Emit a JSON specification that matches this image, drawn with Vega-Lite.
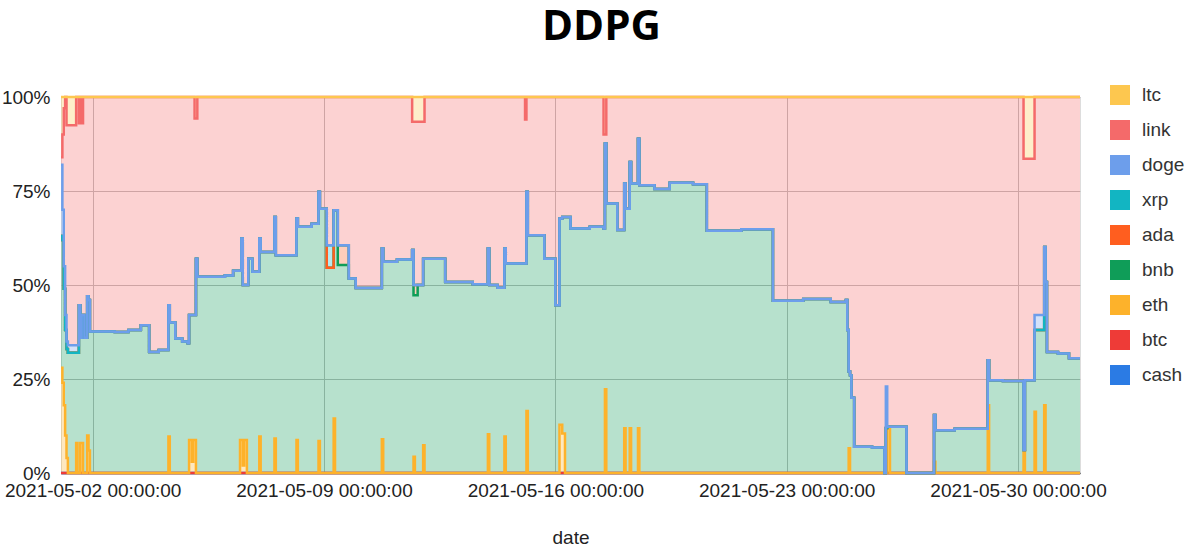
{
"$schema": "https://vega.github.io/schema/vega-lite/v6.json",
"width": 1019, "height": 376,
"autosize": "none",
"padding": {"left": 61, "top": 97, "right": 123, "bottom": 79},
"background": "white",
"title": {"text": "DDPG", "font": "Open Sans", "fontSize": 42, "fontWeight": "bold", "color": "#000", "anchor": "middle", "dx": 31, "offset": 36},
"datasets": {"order": [{"asset":"cash","i":0},{"asset":"btc","i":1},{"asset":"eth","i":2},{"asset":"bnb","i":3},{"asset":"ada","i":4},{"asset":"xrp","i":5},{"asset":"doge","i":6},{"asset":"link","i":7},{"asset":"ltc","i":8}]},
"data": {"values": [
{"t":"2021-05-01T01:00","cash":0,"btc":0,"eth":28,"bnb":35,"ada":0,"xrp":0,"doge":19,"link":2,"ltc":16},
{"t":"2021-05-01T02:00","cash":0,"btc":0,"eth":24,"bnb":38,"ada":0,"xrp":0,"doge":8,"link":20,"ltc":10},
{"t":"2021-05-01T03:00","cash":0,"btc":0,"eth":18,"bnb":31,"ada":0,"xrp":0,"doge":6,"link":42,"ltc":3},
{"t":"2021-05-01T04:00","cash":0,"btc":0,"eth":10,"bnb":28,"ada":0,"xrp":0,"doge":4,"link":58,"ltc":0},
{"t":"2021-05-01T05:00","cash":0,"btc":0,"eth":4,"bnb":29,"ada":0,"xrp":0,"doge":2,"link":57.5,"ltc":7.5},
{"t":"2021-05-01T06:00","cash":0,"btc":0,"eth":0,"bnb":32,"ada":0,"xrp":0,"doge":2,"link":58.5,"ltc":7.5},
{"t":"2021-05-01T12:00","cash":0,"btc":0,"eth":8,"bnb":24,"ada":0,"xrp":0,"doge":2,"link":66,"ltc":0},
{"t":"2021-05-01T13:00","cash":0,"btc":0,"eth":0,"bnb":32,"ada":0,"xrp":0,"doge":2,"link":66,"ltc":0},
{"t":"2021-05-01T14:00","cash":0,"btc":0,"eth":0,"bnb":44.6,"ada":0,"xrp":0,"doge":0,"link":48.4,"ltc":7},
{"t":"2021-05-01T15:00","cash":0,"btc":0,"eth":8,"bnb":28,"ada":0,"xrp":0,"doge":0,"link":64,"ltc":0},
{"t":"2021-05-01T16:00","cash":0,"btc":0,"eth":8,"bnb":34,"ada":0,"xrp":0,"doge":0,"link":51,"ltc":7},
{"t":"2021-05-01T17:00","cash":0,"btc":0,"eth":0,"bnb":42,"ada":0,"xrp":0,"doge":0,"link":58,"ltc":0},
{"t":"2021-05-01T18:00","cash":0,"btc":0,"eth":0,"bnb":36,"ada":0,"xrp":0,"doge":0,"link":64,"ltc":0},
{"t":"2021-05-01T20:00","cash":0,"btc":0,"eth":10,"bnb":37,"ada":0,"xrp":0,"doge":0,"link":53,"ltc":0},
{"t":"2021-05-01T21:00","cash":0,"btc":0,"eth":6,"bnb":40,"ada":0,"xrp":0,"doge":0,"link":54,"ltc":0},
{"t":"2021-05-01T22:00","cash":0,"btc":0,"eth":0,"bnb":37.6,"ada":0,"xrp":0,"doge":0,"link":62.4,"ltc":0},
{"t":"2021-05-02T16:00","cash":0,"btc":0,"eth":0,"bnb":37.5,"ada":0,"xrp":0,"doge":0,"link":62.5,"ltc":0},
{"t":"2021-05-03T02:00","cash":0,"btc":0,"eth":0,"bnb":38,"ada":0,"xrp":0,"doge":0,"link":62,"ltc":0},
{"t":"2021-05-03T11:00","cash":0,"btc":0,"eth":0,"bnb":39.3,"ada":0,"xrp":0,"doge":0,"link":60.7,"ltc":0},
{"t":"2021-05-03T17:00","cash":0,"btc":0,"eth":0,"bnb":32.2,"ada":0,"xrp":0,"doge":0,"link":67.8,"ltc":0},
{"t":"2021-05-04T00:00","cash":0,"btc":0,"eth":0,"bnb":32.7,"ada":0,"xrp":0,"doge":0,"link":67.3,"ltc":0},
{"t":"2021-05-04T07:00","cash":0,"btc":0,"eth":9.7,"bnb":34.9,"ada":0,"xrp":0,"doge":0,"link":55.4,"ltc":0},
{"t":"2021-05-04T08:00","cash":0,"btc":0,"eth":0,"bnb":40,"ada":0,"xrp":0,"doge":0,"link":60,"ltc":0},
{"t":"2021-05-04T12:00","cash":0,"btc":0,"eth":0,"bnb":35.8,"ada":0,"xrp":0,"doge":0,"link":64.2,"ltc":0},
{"t":"2021-05-04T17:00","cash":0,"btc":0,"eth":0,"bnb":35,"ada":0,"xrp":0,"doge":0,"link":65,"ltc":0},
{"t":"2021-05-04T21:00","cash":0,"btc":0,"eth":0,"bnb":34.5,"ada":0,"xrp":0,"doge":0,"link":65.5,"ltc":0},
{"t":"2021-05-04T22:00","cash":0,"btc":0,"eth":8.8,"bnb":33.2,"ada":0,"xrp":0,"doge":0,"link":58,"ltc":0},
{"t":"2021-05-05T00:00","cash":0,"btc":0,"eth":3,"bnb":39,"ada":0,"xrp":0,"doge":0,"link":58,"ltc":0},
{"t":"2021-05-05T01:00","cash":0,"btc":0,"eth":8.8,"bnb":33.2,"ada":0,"xrp":0,"doge":0,"link":58,"ltc":0},
{"t":"2021-05-05T02:00","cash":0,"btc":0,"eth":8.8,"bnb":33.2,"ada":0,"xrp":0,"doge":0,"link":52.3,"ltc":5.7},
{"t":"2021-05-05T03:00","cash":0,"btc":0,"eth":0,"bnb":57,"ada":0,"xrp":0,"doge":0,"link":37.3,"ltc":5.7},
{"t":"2021-05-05T04:00","cash":0,"btc":0,"eth":0,"bnb":52.2,"ada":0,"xrp":0,"doge":0,"link":47.8,"ltc":0},
{"t":"2021-05-06T00:00","cash":0,"btc":0,"eth":0,"bnb":52.5,"ada":0,"xrp":0,"doge":0,"link":47.5,"ltc":0},
{"t":"2021-05-06T06:00","cash":0,"btc":0,"eth":0,"bnb":53.8,"ada":0,"xrp":0,"doge":0,"link":46.2,"ltc":0},
{"t":"2021-05-06T11:00","cash":0,"btc":0,"eth":8.8,"bnb":45,"ada":0,"xrp":0,"doge":0,"link":46.2,"ltc":0},
{"t":"2021-05-06T12:00","cash":0,"btc":0,"eth":8.8,"bnb":53.6,"ada":0,"xrp":0,"doge":0,"link":37.6,"ltc":0},
{"t":"2021-05-06T13:00","cash":0,"btc":0,"eth":2,"bnb":48,"ada":0,"xrp":0,"doge":0,"link":50,"ltc":0},
{"t":"2021-05-06T14:00","cash":0,"btc":0,"eth":8.8,"bnb":41.2,"ada":0,"xrp":0,"doge":0,"link":50,"ltc":0},
{"t":"2021-05-06T16:00","cash":0,"btc":0,"eth":0,"bnb":50,"ada":0,"xrp":0,"doge":0,"link":50,"ltc":0},
{"t":"2021-05-06T17:00","cash":0,"btc":0,"eth":0,"bnb":57,"ada":0,"xrp":0,"doge":0,"link":43,"ltc":0},
{"t":"2021-05-06T20:00","cash":0,"btc":0,"eth":0,"bnb":53.5,"ada":0,"xrp":0,"doge":0,"link":46.5,"ltc":0},
{"t":"2021-05-07T01:00","cash":0,"btc":0,"eth":9.7,"bnb":52.7,"ada":0,"xrp":0,"doge":0,"link":37.6,"ltc":0},
{"t":"2021-05-07T02:00","cash":0,"btc":0,"eth":0,"bnb":58.8,"ada":0,"xrp":0,"doge":0,"link":41.2,"ltc":0},
{"t":"2021-05-07T12:00","cash":0,"btc":0,"eth":9.2,"bnb":58.9,"ada":0,"xrp":0,"doge":0,"link":31.9,"ltc":0},
{"t":"2021-05-07T13:00","cash":0,"btc":0,"eth":0,"bnb":57.9,"ada":0,"xrp":0,"doge":0,"link":42.1,"ltc":0},
{"t":"2021-05-08T04:00","cash":0,"btc":0,"eth":8.8,"bnb":58.9,"ada":0,"xrp":0,"doge":0,"link":32.3,"ltc":0},
{"t":"2021-05-08T05:00","cash":0,"btc":0,"eth":0,"bnb":65.5,"ada":0,"xrp":0,"doge":0,"link":34.5,"ltc":0},
{"t":"2021-05-08T15:00","cash":0,"btc":0,"eth":0,"bnb":66.3,"ada":0,"xrp":0,"doge":0,"link":33.7,"ltc":0},
{"t":"2021-05-08T20:00","cash":0,"btc":0,"eth":8.5,"bnb":66.3,"ada":0,"xrp":0,"doge":0,"link":25.2,"ltc":0},
{"t":"2021-05-08T21:00","cash":0,"btc":0,"eth":0,"bnb":70.3,"ada":0,"xrp":0,"doge":0,"link":29.7,"ltc":0},
{"t":"2021-05-09T02:00","cash":0,"btc":0,"eth":0,"bnb":54.6,"ada":0,"xrp":6,"doge":0,"link":39.4,"ltc":0},
{"t":"2021-05-09T07:00","cash":0,"btc":0,"eth":14.5,"bnb":55.4,"ada":0,"xrp":0,"doge":0,"link":30.1,"ltc":0},
{"t":"2021-05-09T08:00","cash":0,"btc":0,"eth":0,"bnb":69.9,"ada":0,"xrp":0,"doge":0,"link":30.1,"ltc":0},
{"t":"2021-05-09T10:00","cash":0,"btc":0,"eth":0,"bnb":55.3,"ada":5.3,"xrp":0,"doge":0,"link":39.4,"ltc":0},
{"t":"2021-05-09T18:00","cash":0,"btc":0,"eth":0,"bnb":51.7,"ada":0,"xrp":0,"doge":0,"link":48.3,"ltc":0},
{"t":"2021-05-09T23:00","cash":0,"btc":0,"eth":0,"bnb":49.2,"ada":0,"xrp":0,"doge":0,"link":50.8,"ltc":0},
{"t":"2021-05-10T18:00","cash":0,"btc":0,"eth":9,"bnb":50.7,"ada":0,"xrp":0,"doge":0,"link":40.3,"ltc":0},
{"t":"2021-05-10T19:00","cash":0,"btc":0,"eth":0,"bnb":56.2,"ada":0,"xrp":0,"doge":0,"link":43.8,"ltc":0},
{"t":"2021-05-11T05:00","cash":0,"btc":0,"eth":0,"bnb":56.8,"ada":0,"xrp":0,"doge":0,"link":43.2,"ltc":0},
{"t":"2021-05-11T16:00","cash":0,"btc":0,"eth":0,"bnb":59.3,"ada":0,"xrp":0,"doge":0,"link":34.1,"ltc":6.6},
{"t":"2021-05-11T17:00","cash":0,"btc":0,"eth":4.3,"bnb":43,"ada":2.7,"xrp":0,"doge":0,"link":43.4,"ltc":6.6},
{"t":"2021-05-11T18:00","cash":0,"btc":0,"eth":0,"bnb":47.3,"ada":2.7,"xrp":0,"doge":0,"link":43.4,"ltc":6.6},
{"t":"2021-05-11T20:00","cash":0,"btc":0,"eth":0,"bnb":50,"ada":0,"xrp":0,"doge":0,"link":43.4,"ltc":6.6},
{"t":"2021-05-12T00:00","cash":0,"btc":0,"eth":7.4,"bnb":49.6,"ada":0,"xrp":0,"doge":0,"link":36.4,"ltc":6.6},
{"t":"2021-05-12T01:00","cash":0,"btc":0,"eth":0,"bnb":57,"ada":0,"xrp":0,"doge":0,"link":43,"ltc":0},
{"t":"2021-05-12T16:00","cash":0,"btc":0,"eth":0,"bnb":50.8,"ada":0,"xrp":0,"doge":0,"link":49.2,"ltc":0},
{"t":"2021-05-13T12:00","cash":0,"btc":0,"eth":0,"bnb":50.2,"ada":0,"xrp":0,"doge":0,"link":49.8,"ltc":0},
{"t":"2021-05-13T23:00","cash":0,"btc":0,"eth":10.3,"bnb":49.4,"ada":0,"xrp":0,"doge":0,"link":40.3,"ltc":0},
{"t":"2021-05-14T00:00","cash":0,"btc":0,"eth":0,"bnb":50,"ada":0,"xrp":0,"doge":0,"link":50,"ltc":0},
{"t":"2021-05-14T06:00","cash":0,"btc":0,"eth":0,"bnb":49.3,"ada":0,"xrp":0,"doge":0,"link":50.7,"ltc":0},
{"t":"2021-05-14T11:00","cash":0,"btc":0,"eth":9.7,"bnb":50,"ada":0,"xrp":0,"doge":0,"link":40.3,"ltc":0},
{"t":"2021-05-14T12:00","cash":0,"btc":0,"eth":0,"bnb":55.7,"ada":0,"xrp":0,"doge":0,"link":44.3,"ltc":0},
{"t":"2021-05-15T02:00","cash":0,"btc":0,"eth":0,"bnb":55.7,"ada":0,"xrp":0,"doge":0,"link":38.3,"ltc":6},
{"t":"2021-05-15T03:00","cash":0,"btc":0,"eth":16.5,"bnb":58.3,"ada":0,"xrp":0,"doge":0,"link":25.2,"ltc":0},
{"t":"2021-05-15T04:00","cash":0,"btc":0,"eth":0,"bnb":63.2,"ada":0,"xrp":0,"doge":0,"link":36.8,"ltc":0},
{"t":"2021-05-15T16:00","cash":0,"btc":0,"eth":0,"bnb":57,"ada":0,"xrp":0,"doge":0,"link":43,"ltc":0},
{"t":"2021-05-16T00:00","cash":0,"btc":0,"eth":0,"bnb":44.6,"ada":0,"xrp":0,"doge":0,"link":55.4,"ltc":0},
{"t":"2021-05-16T03:00","cash":0,"btc":0,"eth":12.8,"bnb":54.9,"ada":0,"xrp":0,"doge":0,"link":32.3,"ltc":0},
{"t":"2021-05-16T05:00","cash":0,"btc":0,"eth":10.5,"bnb":57.6,"ada":0,"xrp":0,"doge":0,"link":31.9,"ltc":0},
{"t":"2021-05-16T07:00","cash":0,"btc":0,"eth":0,"bnb":68.1,"ada":0,"xrp":0,"doge":0,"link":31.9,"ltc":0},
{"t":"2021-05-16T11:00","cash":0,"btc":0,"eth":0,"bnb":65,"ada":0,"xrp":0,"doge":0,"link":35,"ltc":0},
{"t":"2021-05-17T01:00","cash":0,"btc":0,"eth":0,"bnb":65.5,"ada":0,"xrp":0,"doge":0,"link":34.5,"ltc":0},
{"t":"2021-05-17T11:00","cash":0,"btc":0,"eth":0,"bnb":65,"ada":0,"xrp":0,"doge":0,"link":25,"ltc":10},
{"t":"2021-05-17T12:00","cash":0,"btc":0,"eth":22.3,"bnb":65.3,"ada":0,"xrp":0,"doge":0,"link":2.4,"ltc":10},
{"t":"2021-05-17T13:00","cash":0,"btc":0,"eth":0,"bnb":71.7,"ada":0,"xrp":0,"doge":0,"link":28.3,"ltc":0},
{"t":"2021-05-17T21:00","cash":0,"btc":0,"eth":0,"bnb":64.6,"ada":0,"xrp":0,"doge":0,"link":35.4,"ltc":0},
{"t":"2021-05-18T02:00","cash":0,"btc":0,"eth":11.9,"bnb":65.1,"ada":0,"xrp":0,"doge":0,"link":23,"ltc":0},
{"t":"2021-05-18T03:00","cash":0,"btc":0,"eth":0,"bnb":70.3,"ada":0,"xrp":0,"doge":0,"link":29.7,"ltc":0},
{"t":"2021-05-18T06:00","cash":0,"btc":0,"eth":11.9,"bnb":70.8,"ada":0,"xrp":0,"doge":0,"link":17.3,"ltc":0},
{"t":"2021-05-18T07:00","cash":0,"btc":0,"eth":0,"bnb":77,"ada":0,"xrp":0,"doge":0,"link":23,"ltc":0},
{"t":"2021-05-18T12:00","cash":0,"btc":0,"eth":11.9,"bnb":77,"ada":0,"xrp":0,"doge":0,"link":11.1,"ltc":0},
{"t":"2021-05-18T13:00","cash":0,"btc":0,"eth":0,"bnb":76.5,"ada":0,"xrp":0,"doge":0,"link":23.5,"ltc":0},
{"t":"2021-05-19T00:00","cash":0,"btc":0,"eth":0,"bnb":75.5,"ada":0,"xrp":0,"doge":0,"link":24.5,"ltc":0},
{"t":"2021-05-19T11:00","cash":0,"btc":0,"eth":0,"bnb":77.2,"ada":0,"xrp":0,"doge":0,"link":22.8,"ltc":0},
{"t":"2021-05-20T04:00","cash":0,"btc":0,"eth":0,"bnb":76.8,"ada":0,"xrp":0,"doge":0,"link":23.2,"ltc":0},
{"t":"2021-05-20T14:00","cash":0,"btc":0,"eth":0,"bnb":64.4,"ada":0,"xrp":0,"doge":0,"link":35.6,"ltc":0},
{"t":"2021-05-21T15:00","cash":0,"btc":0,"eth":0,"bnb":64.8,"ada":0,"xrp":0,"doge":0,"link":35.2,"ltc":0},
{"t":"2021-05-22T14:00","cash":0,"btc":0,"eth":0,"bnb":45.8,"ada":0,"xrp":0,"doge":0,"link":54.2,"ltc":0},
{"t":"2021-05-23T12:00","cash":0,"btc":0,"eth":0,"bnb":46.3,"ada":0,"xrp":0,"doge":0,"link":53.7,"ltc":0},
{"t":"2021-05-24T08:00","cash":0,"btc":0,"eth":0,"bnb":45.5,"ada":0,"xrp":0,"doge":0,"link":54.5,"ltc":0},
{"t":"2021-05-24T19:00","cash":0,"btc":0,"eth":0,"bnb":46,"ada":0,"xrp":0,"doge":0,"link":54,"ltc":0},
{"t":"2021-05-24T20:00","cash":0,"btc":0,"eth":0,"bnb":38,"ada":0,"xrp":0,"doge":0,"link":62,"ltc":0},
{"t":"2021-05-24T21:00","cash":0,"btc":0,"eth":6.6,"bnb":20.4,"ada":0,"xrp":0,"doge":0,"link":73,"ltc":0},
{"t":"2021-05-24T22:00","cash":0,"btc":0,"eth":0,"bnb":26,"ada":0,"xrp":0,"doge":0,"link":74,"ltc":0},
{"t":"2021-05-24T23:00","cash":0,"btc":0,"eth":0,"bnb":20,"ada":0,"xrp":0,"doge":0,"link":80,"ltc":0},
{"t":"2021-05-25T01:00","cash":0,"btc":0,"eth":0,"bnb":7,"ada":0,"xrp":0,"doge":0,"link":93,"ltc":0},
{"t":"2021-05-25T14:00","cash":0,"btc":0,"eth":0,"bnb":6.8,"ada":0,"xrp":0,"doge":0,"link":93.2,"ltc":0},
{"t":"2021-05-25T23:00","cash":0,"btc":0,"eth":0,"bnb":0,"ada":0,"xrp":0,"doge":0,"link":100,"ltc":0},
{"t":"2021-05-26T00:00","cash":0,"btc":0,"eth":0,"bnb":12,"ada":0,"xrp":0,"doge":11,"link":77,"ltc":0},
{"t":"2021-05-26T01:00","cash":0,"btc":0,"eth":12,"bnb":0.3,"ada":0,"xrp":0,"doge":0,"link":87.7,"ltc":0},
{"t":"2021-05-26T03:00","cash":0,"btc":0,"eth":0,"bnb":12.3,"ada":0,"xrp":0,"doge":0,"link":87.7,"ltc":0},
{"t":"2021-05-26T15:00","cash":0,"btc":0,"eth":0,"bnb":0,"ada":0,"xrp":0,"doge":0,"link":100,"ltc":0},
{"t":"2021-05-27T11:00","cash":0,"btc":0,"eth":3,"bnb":12.4,"ada":0,"xrp":0,"doge":0,"link":84.6,"ltc":0},
{"t":"2021-05-27T12:00","cash":0,"btc":0,"eth":0,"bnb":11.4,"ada":0,"xrp":0,"doge":0,"link":88.6,"ltc":0},
{"t":"2021-05-28T02:00","cash":0,"btc":0,"eth":0,"bnb":11.8,"ada":0,"xrp":0,"doge":0,"link":88.2,"ltc":0},
{"t":"2021-05-29T02:00","cash":0,"btc":0,"eth":18,"bnb":12,"ada":0,"xrp":0,"doge":0,"link":70,"ltc":0},
{"t":"2021-05-29T03:00","cash":0,"btc":0,"eth":0,"bnb":24.7,"ada":0,"xrp":0,"doge":0,"link":75.3,"ltc":0},
{"t":"2021-05-29T13:00","cash":0,"btc":0,"eth":0,"bnb":24.5,"ada":0,"xrp":0,"doge":0,"link":75.5,"ltc":0},
{"t":"2021-05-30T04:00","cash":0,"btc":0,"eth":5.7,"bnb":0.4,"ada":0,"xrp":0,"doge":0,"link":77.5,"ltc":16.4},
{"t":"2021-05-30T05:00","cash":0,"btc":0,"eth":0,"bnb":24.7,"ada":0,"xrp":0,"doge":0,"link":58.9,"ltc":16.4},
{"t":"2021-05-30T12:00","cash":0,"btc":0,"eth":16.3,"bnb":21.7,"ada":0,"xrp":0,"doge":4,"link":58,"ltc":0},
{"t":"2021-05-30T13:00","cash":0,"btc":0,"eth":0,"bnb":38,"ada":0,"xrp":0,"doge":4,"link":58,"ltc":0},
{"t":"2021-05-30T19:00","cash":0,"btc":0,"eth":18,"bnb":42.1,"ada":0,"xrp":0,"doge":0,"link":39.9,"ltc":0},
{"t":"2021-05-30T20:00","cash":0,"btc":0,"eth":0,"bnb":50.8,"ada":0,"xrp":0,"doge":0,"link":49.2,"ltc":0},
{"t":"2021-05-30T21:00","cash":0,"btc":0,"eth":0,"bnb":32.2,"ada":0,"xrp":0,"doge":0,"link":67.8,"ltc":0},
{"t":"2021-05-31T05:00","cash":0,"btc":0,"eth":0,"bnb":31.8,"ada":0,"xrp":0,"doge":0,"link":68.2,"ltc":0},
{"t":"2021-05-31T13:00","cash":0,"btc":0,"eth":0,"bnb":30.5,"ada":0,"xrp":0,"doge":0,"link":69.5,"ltc":0},
{"t":"2021-05-31T21:00","cash":0,"btc":0,"eth":0,"bnb":30.5,"ada":0,"xrp":0,"doge":0,"link":69.5,"ltc":0}
]},
"transform": [
{"fold": ["cash","btc","eth","bnb","ada","xrp","doge","link","ltc"], "as": ["asset","w"]},
{"lookup": "asset", "from": {"data": {"name": "order"}, "key": "asset", "fields": ["i"]}},
{"stack": "w", "groupby": ["t"], "sort": [{"field": "i", "order": "ascending"}], "offset": "normalize", "as": ["y0", "y1"]}
],
"encoding": {
"x": {"field": "t", "type": "temporal",
 "scale": {"domain": [{"year":2021,"month":5,"date":1,"hours":1},{"year":2021,"month":5,"date":31,"hours":21}]},
 "axis": {"title": "date", "titleFont": "Liberation Sans", "titleFontSize": 19, "titleFontWeight": "normal", "titleColor": "#222", "titlePadding": 28,
  "values": [{"year":2021,"month":5,"date":2},{"year":2021,"month":5,"date":9},{"year":2021,"month":5,"date":16},{"year":2021,"month":5,"date":23},{"year":2021,"month":5,"date":30}],
  "format": "%Y-%m-%d %H:%M:%S", "labelFont": "Liberation Sans", "labelFontSize": 19, "labelColor": "#222", "ticks": false, "labelPadding": 8,
  "gridColor": "#bdbdbd", "domainColor": "#333", "domainWidth": 1.5, "labelOverlap": false, "labelFlush": false}},
"y": {"field": "y1", "type": "quantitative",
 "scale": {"domain": [0, 1], "nice": false},
 "axis": {"title": null, "values": [0, 0.25, 0.5, 0.75, 1], "format": ".0%", "labelFont": "Liberation Sans", "labelFontSize": 19, "labelColor": "#222", "ticks": false, "domain": false, "labelPadding": 11, "gridColor": "#bdbdbd"}},
"color": {"field": "asset", "type": "nominal",
 "scale": {"domain": ["ltc","link","doge","xrp","ada","bnb","eth","btc","cash"], "range": ["#FDC74F","#F46A6A","#6D9EEB","#12B5C2","#FF5E1F","#0F9D58","#FDB22B","#EE3B37","#2B7BE4"]},
 "legend": {"title": null, "orient": "none", "legendX": 1049, "legendY": -12, "symbolType": "square", "symbolSize": 400, "symbolStrokeWidth": 0, "symbolOpacity": 1, "labelFont": "Liberation Sans", "labelFontSize": 19, "labelColor": "#333", "labelOffset": 12, "rowPadding": 15, "labelLimit": 100,
  "encode": {"symbols": {"update": {"fillOpacity": {"value": 1}, "opacity": {"value": 1}, "strokeWidth": {"value": 0}}}}}}
},
"layer": [
{"mark": {"type": "area", "interpolate": "step-after", "fillOpacity": 0.3}, "encoding": {"y2": {"field": "y0"}}},
{"mark": {"type": "line", "interpolate": "step-after", "strokeWidth": 2.5}}
]
}
